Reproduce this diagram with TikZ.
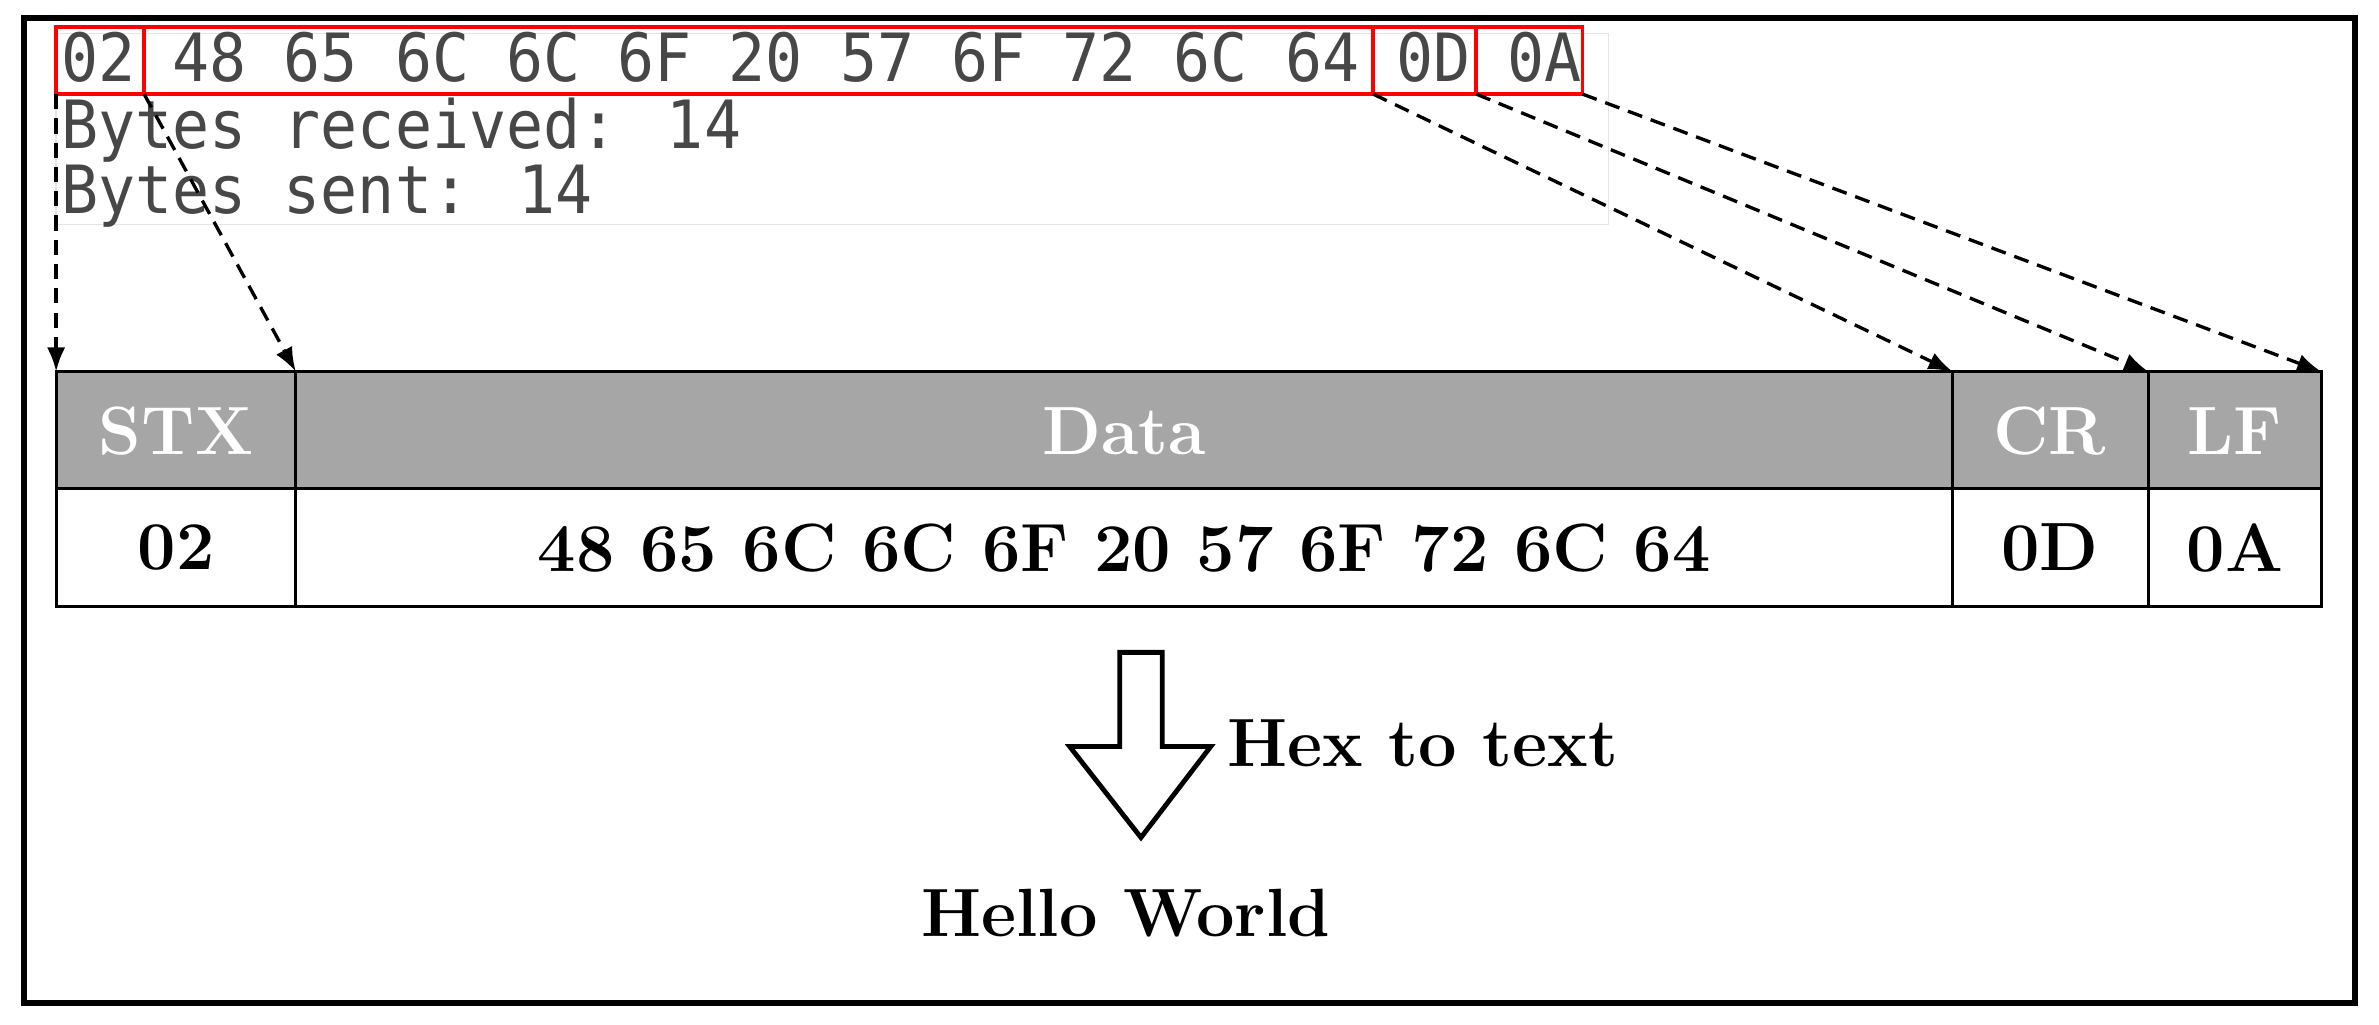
\documentclass[tikz,border=0pt]{standalone}
\usepackage{fontspec}
\newfontfamily\cmono{DejaVu Sans Mono}
\usetikzlibrary{arrows.meta}
\begin{document}
\begin{tikzpicture}[x=0.5pt,y=-0.5pt,
  hdr/.style={font=\fontsize{22.5}{22.5}\selectfont\bfseries,text=white},
  cell/.style={font=\fontsize{22.5}{22.5}\selectfont\bfseries},
  con/.style={font=\cmono\fontsize{20.3}{20.3}\selectfont,text=black!72,anchor=base west,inner sep=0},
  redbox/.style={draw=red,line width=1.2pt},
  conn/.style={dash pattern=on 5pt off 3pt,line width=1.1pt,-{Latex[length=8pt,width=6pt]}}]
\useasboundingbox (0,0) rectangle (1568,675);
\draw[line width=2pt] (16,12) rectangle (1552,661);
\draw[black!10,line width=0.5pt] (37,22) rectangle (1060,148);
\node[con] (l1) at (40,54) {\scalebox{1}[1.08]{02 48 65 6C 6C 6F 20 57 6F 72 6C 64 0D 0A}};
\node[con] (l2) at (40,98) {\scalebox{1}[1.08]{Bytes received: 14}};
\node[con] (l3) at (40,141) {\scalebox{1}[1.08]{Bytes sent: 14}};
\draw[redbox] (37,18) rectangle (95,62);
\draw[redbox] (95,18) rectangle (905,62);
\draw[redbox] (905,18) rectangle (973,62);
\draw[redbox] (973,18) rectangle (1043,62);
\coordinate (s1) at (37,62); \coordinate (s2) at (95,62);
\coordinate (s3) at (905,62); \coordinate (s4) at (973,62); \coordinate (s5) at (1043,62);
% table
\fill[black!35] (37,245) rectangle (1530,322);
\draw[line width=1pt] (37,245) rectangle (1530,400);
\draw[line width=1pt] (37,322) -- (1530,322);
\foreach \x in {195,1287,1416} \draw[line width=1pt] (\x,245) -- (\x,400);
\coordinate (t1) at (37,245); \coordinate (t2) at (195,245);
\coordinate (t3) at (1287,245); \coordinate (t4) at (1416,245); \coordinate (t5) at (1530,245);
\node[hdr] (h1) at (116,284) {STX};
\node[hdr] (h2) at (741,284) {Data};
\node[hdr] (h3) at (1351,284) {CR};
\node[hdr] (h4) at (1473,284) {LF};
\node[cell] (c1) at (116,361) {02};
\node[cell] (c2) at (741,361) {48 65 6C 6C 6F 20 57 6F 72 6C 64};
\node[cell] (c3) at (1351,361) {0D};
\node[cell] (c4) at (1473,361) {0A};
\foreach \i in {1,...,5} \draw[conn] (s\i) -- (t\i);
% block arrow
\draw[line width=1.6pt,fill=white] (738,430) -- (766,430) -- (766,492) -- (798,492) -- (752,552) -- (705,492) -- (738,492) -- cycle;
\node[cell,anchor=west] (hx) at (802,490) {Hex to text};
\node[cell] (hw) at (742,602) {Hello World};
\end{tikzpicture}
\end{document}
